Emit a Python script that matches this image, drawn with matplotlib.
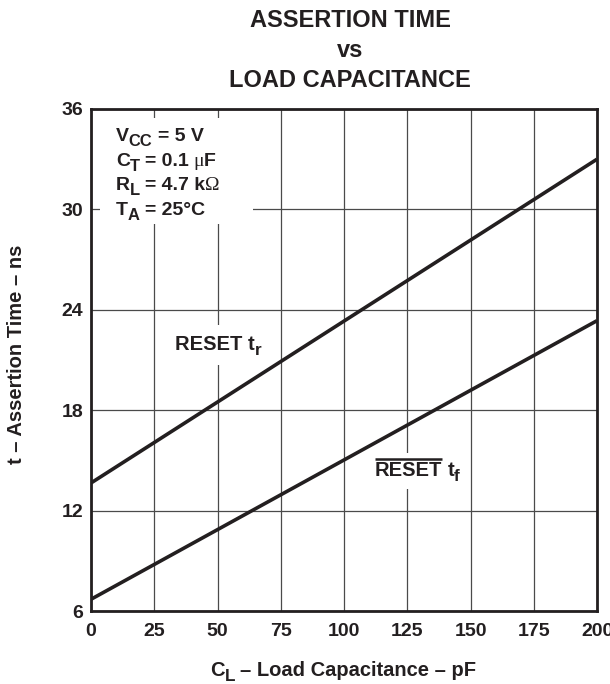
import matplotlib
matplotlib.use('Agg')
import matplotlib.pyplot as plt
from matplotlib.patches import Rectangle
from matplotlib.transforms import IdentityTransform, Bbox

plt.rcParams['font.family'] = ['Liberation Sans', 'DejaVu Sans']
plt.rcParams['font.weight'] = 'bold'

# load capacitance, pF
cap = [0, 200]
# assertion times, ns
t_rise = [13.65, 33.0]
t_fall = [6.7, 23.35]

x_ticks = [0, 25, 50, 75, 100, 125, 150, 175, 200]
y_ticks = [6, 12, 18, 24, 30, 36]

# text runs: (text, style, gap before in px); style n = normal, s = subscript, g = symbol
conditions = [
    [('V', 'n', 0), ('CC', 's', 0), ('= 5 V', 'n', 5)],
    [('C', 'n', 0), ('T', 's', 0), ('= 0.1', 'n', 5), ('μ', 'g', 5), ('F', 'n', 0)],
    [('R', 'n', 0), ('L', 's', 0), ('= 4.7 k', 'n', 5), ('Ω', 'g', 0)],
    [('T', 'n', 0), ('A', 's', 0), ('= 25°C', 'n', 5)],
]
label_rise = [('RESET t', 'n', 0), ('r', 's', 0)]
label_fall = [('RESET', 'o', 0), ('t', 'n', 5), ('f', 's', 0)]
x_label = [('C', 'n', 0), ('L', 's', 0), ('– Load Capacitance – pF', 'n', 5)]

ink = '#231f20'

fig = plt.figure(figsize=(6.10, 6.84), dpi=100)
# axes: x 91..597 px, y 109..611 px
ax = fig.add_axes([91 / 610, 1 - 611 / 684, 506 / 610, 502 / 684])
renderer = fig.canvas.get_renderer()
px = IdentityTransform()


def put_runs(x, y, parts, size, trans, pad=None):
    """Draw text pieces one after another from (x, y) baseline-left."""
    x0, y0 = trans.transform((x, y))
    boxes = []
    for s, style, gap in parts:
        x0 += gap
        kw = dict(fontsize=size, fontweight='bold', family=['Liberation Sans', 'DejaVu Sans'])
        yy = y0
        if style == 's':
            kw['fontsize'] = size * 0.85
            yy = y0 - 5
        elif style == 'g':
            kw['fontweight'] = 'normal'
            kw['family'] = ['Liberation Serif', 'DejaVu Serif']
        t = ax.text(x0, yy, s, transform=px, color=ink, ha='left', va='baseline',
                    zorder=3, clip_on=False, **kw)
        bb = t.get_window_extent(renderer)
        boxes.append(bb)
        if style == 'o':
            ax.plot([bb.x0, bb.x1], [bb.y1 + 2, bb.y1 + 2], transform=px,
                    color=ink, lw=1.8, solid_capstyle='butt', zorder=3, clip_on=False)
        x0 = bb.x1
    if pad is not None:
        u = Bbox.union(boxes)
        a0 = ax.transAxes.inverted().transform((u.x0 - pad, u.y0 - pad))
        a1 = ax.transAxes.inverted().transform((u.x1 + pad, u.y1 + pad + 3))
        ax.add_patch(Rectangle(a0, a1[0] - a0[0], a1[1] - a0[1], transform=ax.transAxes,
                               facecolor='white', edgecolor='none', zorder=2))


ax.plot(cap, t_rise, color=ink, lw=2.6, solid_capstyle='butt', zorder=4)
ax.plot(cap, t_fall, color=ink, lw=2.6, solid_capstyle='butt', zorder=4)

ax.set_xlim(0, 200)
ax.set_ylim(6, 36)
ax.set_xticks(x_ticks)
ax.set_yticks(y_ticks)
ax.grid(True, color='#4a4a4a', lw=0.9)
ax.set_axisbelow(True)
ax.tick_params(length=0, labelsize=14, colors=ink)
ax.tick_params(axis='x', pad=9)
ax.tick_params(axis='y', pad=5.5)
for lab in ax.get_xticklabels() + ax.get_yticklabels():
    lab.set_fontweight('bold')
for s in ax.spines.values():
    s.set_linewidth(2)
    s.set_color(ink)
    s.set_zorder(5)

# conditions box (white, hides the grid)
ax.add_patch(Rectangle((0.018, 0.77), 0.302, 0.212, transform=ax.transAxes,
                       facecolor='white', edgecolor='none', zorder=2))
for i, parts in enumerate(conditions):
    put_runs(0.049, 0.936 - i * 0.049, parts, 14, ax.transAxes)

put_runs(33.2, 21.6, label_rise, 14.5, ax.transData, pad=7)
put_runs(112.3, 14.07, label_fall, 14.5, ax.transData, pad=5)

put_runs(210 / 610, 1 - 676 / 684, x_label, 14.5, fig.transFigure)
fig.text(17 / 610, 1 - 354 / 684, 't – Assertion Time – ns', rotation=90,
         fontsize=14.5, fontweight='bold', color=ink, ha='center', va='center')

fig.text(350 / 610, 1 - 27 / 684, 'ASSERTION TIME', ha='center', va='baseline',
         fontsize=17, fontweight='bold', color=ink)
fig.text(350 / 610, 1 - 57 / 684, 'vs', ha='center', va='baseline',
         fontsize=17, fontweight='bold', color=ink)
fig.text(350 / 610, 1 - 87 / 684, 'LOAD CAPACITANCE', ha='center', va='baseline',
         fontsize=17, fontweight='bold', color=ink)

fig.savefig('out.png', dpi=100)
